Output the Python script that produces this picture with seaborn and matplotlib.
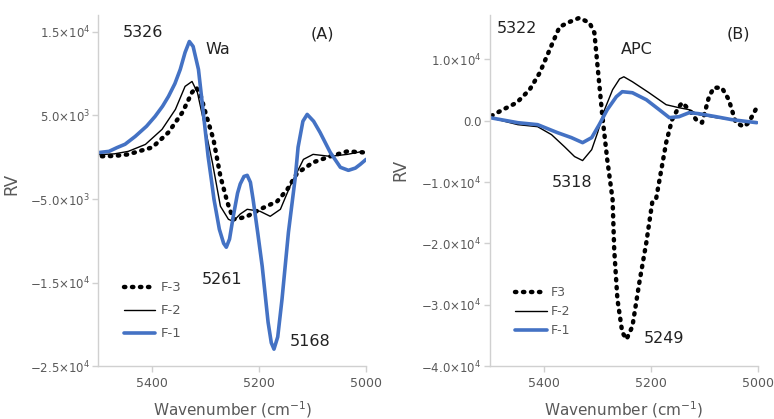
import numpy as np
import pandas as pd
import matplotlib
matplotlib.use("Agg")
import matplotlib.pyplot as plt
import seaborn as sns

# ---- panel A (Wa) ----
a_f1_x = [5500, 5480, 5465, 5450, 5431, 5410, 5394, 5380, 5369, 5357, 5347, 5338, 5330, 5323,
          5313, 5304, 5295, 5289, 5284, 5274, 5266, 5261, 5255, 5248, 5240, 5235, 5228, 5222,
          5216, 5211, 5202, 5194, 5183, 5177, 5172, 5165, 5157, 5145, 5132, 5127, 5118, 5110,
          5098, 5086, 5067, 5048, 5033, 5020, 5011, 5000]
a_f1_y = [550, 700, 1150, 1550, 2490, 3700, 4880, 6100, 7270, 8800, 10500, 12530, 13840, 13250,
          10500, 5360, 100, -2650, -5040, -8620, -10300, -10770, -9800, -7070, -4300, -3200,
          -2300, -2170, -3000, -5040, -9200, -13040, -19740, -22200, -22960, -21500, -16990,
          -8980, -2290, 1200, 4300, 5120, 4300, 2970, 580, -1210, -1570, -1300, -860, -260]

a_f2_x = [5500, 5470, 5444, 5412, 5381, 5356, 5338, 5325, 5315, 5300, 5287, 5272, 5257, 5248,
          5235, 5222, 5198, 5179, 5160, 5142, 5129, 5117, 5099, 5067, 5035, 5006]
a_f2_y = [300, 400, 700, 1530, 3330, 5720, 8470, 9060, 7750, 3330, -620, -5870, -7430, -7670,
          -6800, -6230, -6470, -7070, -6230, -3480, -1810, -260, 340, 100, 340, 700]

a_f3_x = [5500, 5470, 5444, 5399, 5369, 5343, 5325, 5317, 5308, 5300, 5285, 5272, 5259, 5248,
          5235, 5222, 5198, 5166, 5147, 5129, 5099, 5067, 5035, 5006]
a_f3_y = [100, 150, 340, 1180, 2970, 5360, 7750, 8350, 7200, 5360, 2130, -2290, -5400, -7430,
          -7300, -7070, -6230, -5280, -3840, -1930, -620, 100, 700, 580]

# ---- panel B (APC) ----
b_f1_x = [5500, 5448, 5411, 5374, 5348, 5327, 5310, 5296, 5281, 5264, 5253, 5234, 5208, 5184,
          5165, 5147, 5128, 5110, 5078, 5048, 5002]
b_f1_y = [490, -330, -650, -1950, -2760, -3580, -2760, -650, 1790, 3900, 4720, 4550, 3410, 1790,
          490, 650, 1300, 1140, 650, 160, -330]

b_f2_x = [5500, 5448, 5411, 5385, 5361, 5342, 5327, 5310, 5299, 5286, 5271, 5258, 5250, 5234,
          5203, 5171, 5147, 5128, 5110, 5078, 5048, 5017, 5002]
b_f2_y = [490, -650, -980, -2280, -4230, -5850, -6500, -4720, -1950, 1790, 5040, 6800, 7150, 6340,
          4550, 2600, 2110, 1790, 980, 490, 160, -160, -160]

b_f3_x = [5500, 5476, 5450, 5426, 5407, 5383, 5370, 5351, 5333, 5314, 5305, 5299, 5290, 5281,
          5271, 5268, 5262, 5253, 5245, 5234, 5221, 5208, 5197, 5190, 5171, 5160, 5147, 5141,
          5128, 5115, 5104, 5091, 5082, 5067, 5054, 5041, 5026, 5017, 5004]
b_f3_y = [650, 1790, 2930, 5040, 7800, 12680, 15280, 16100, 16750, 15930, 14310, 8780, 650,
          -6340, -12850, -20980, -29100, -34470, -35610, -33500, -26340, -19840, -13330, -12850,
          -3580, 160, 2280, 2930, 1790, 160, -330, 3900, 5370, 5370, 3410, -330, -980, -330, 1790]

a_yticks = [15000, 5000, -5000, -15000, -25000]
a_ylabels = [r"1.5$\times$10$^{4}$", r"5.0$\times$10$^{3}$", r"$-$5.0$\times$10$^{3}$",
             r"$-$1.5$\times$10$^{4}$", r"$-$2.5$\times$10$^{4}$"]
b_yticks = [10000, 0, -10000, -20000, -30000, -40000]
b_ylabels = [r"1.0$\times$10$^{4}$", "0.0", r"$-$1.0$\times$10$^{4}$", r"$-$2.0$\times$10$^{4}$",
             r"$-$3.0$\times$10$^{4}$", r"$-$4.0$\times$10$^{4}$"]
x_ticks = [5400, 5200, 5000]

sns.set_style("white")
plt.rcParams["font.family"] = ["DejaVu Sans"]

GRAY = "#595959"
BLUE = "#4472C4"


def draw_panel(ax, f1x, f1y, f2x, f2y, f3x, f3y, labels):
    df3 = pd.DataFrame({"x": f3x, "y": f3y})
    df2 = pd.DataFrame({"x": f2x, "y": f2y})
    df1 = pd.DataFrame({"x": f1x, "y": f1y})
    sns.lineplot(data=df3, x="x", y="y", ax=ax, color="black", lw=3.2,
                 linestyle=(0, (0.3, 1.5)), dash_capstyle="round", label=labels[0], estimator=None)
    sns.lineplot(data=df2, x="x", y="y", ax=ax, color="black", lw=1.0, label=labels[1], estimator=None)
    sns.lineplot(data=df1, x="x", y="y", ax=ax, color=BLUE, lw=2.6, label=labels[2], estimator=None)
    ax.set_xlim(5500, 5000)
    ax.set_xticks(x_ticks)
    for s in ["top", "right"]:
        ax.spines[s].set_visible(False)
    for s in ["left", "bottom"]:
        ax.spines[s].set_color("#D0D0D0")
        ax.spines[s].set_linewidth(1.0)
    ax.tick_params(axis="both", colors="#D0D0D0", labelcolor=GRAY, length=4, width=1,
                   direction="out", left=True, bottom=True)
    ax.tick_params(axis="x", labelsize=9)
    ax.tick_params(axis="y", labelsize=8.5, pad=2)
    ax.set_xlabel("Wavenumber (cm$^{-1}$)", color=GRAY, fontsize=11)
    ax.set_ylabel("RV", color=GRAY, fontsize=12)


fig = plt.figure(figsize=(7.74, 4.19), dpi=100)
ax1 = fig.add_axes([0.127, 0.126, 0.346, 0.838])
ax2 = fig.add_axes([0.633, 0.126, 0.346, 0.838])

draw_panel(ax1, a_f1_x, a_f1_y, a_f2_x, a_f2_y, a_f3_x, a_f3_y, ["F-3", "F-2", "F-1"])
ax1.set_ylim(-25000, 17000)
ax1.set_yticks(a_yticks)
ax1.set_yticklabels(a_ylabels)
ax1.yaxis.set_label_coords(-0.29, 0.52)
ax1.xaxis.set_label_coords(0.5, -0.095)
leg1 = ax1.legend(loc="lower left", bbox_to_anchor=(0.05, 0.04), frameon=False, fontsize=9.5,
                  handlelength=2.4, labelspacing=0.75, handletextpad=0.4)
for t in leg1.get_texts():
    t.set_color(GRAY)

draw_panel(ax2, b_f1_x, b_f1_y, b_f2_x, b_f2_y, b_f3_x, b_f3_y, ["F3", "F-2", "F-1"])
ax2.set_ylim(-40000, 17200)
ax2.set_yticks(b_yticks)
ax2.set_yticklabels(b_ylabels)
ax2.yaxis.set_label_coords(-0.30, 0.56)
ax2.xaxis.set_label_coords(0.5, -0.095)
leg2 = ax2.legend(loc="lower left", bbox_to_anchor=(0.05, 0.05), frameon=False, fontsize=9,
                  handlelength=2.6, labelspacing=0.5, handletextpad=0.3)
for t in leg2.get_texts():
    t.set_color(GRAY)

txt = dict(fontsize=11.5, color="#222222", ha="center", va="center")
ax1.text(5416, 14900, "5326", **txt)
ax1.text(5276, 12900, "Wa", **txt)
ax1.text(5082, 14700, "(A)", **txt)
ax1.text(5269, -14600, "5261", **txt)
ax1.text(5104, -22100, "5168", **txt)

ax2.text(5450, 14960, "5322", **txt)
ax2.text(5225, 11540, "APC", **txt)
ax2.text(5037, 14150, "(B)", **txt)
ax2.text(5346, -10080, "5318", **txt)
ax2.text(5175, -35450, "5249", **txt)

fig.savefig("out.png", dpi=100)
